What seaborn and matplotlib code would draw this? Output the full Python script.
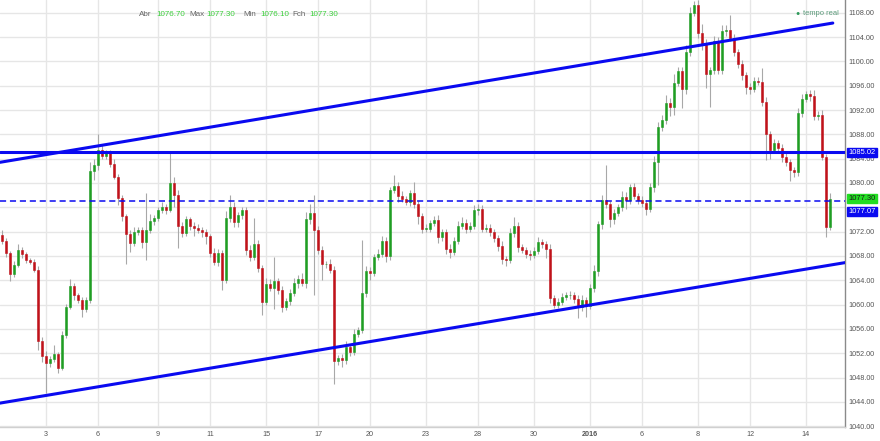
import numpy as np
import pandas as pd
import matplotlib
matplotlib.use("Agg")
import matplotlib.pyplot as plt
import matplotlib.transforms as mtransforms
import seaborn as sns

# Fechamentos dos candles
first_open = 1071.4
closes = [
    1070.5, 1068.5, 1065.0, 1066.5, 1069.0, 1068.3, 1067.3, 1067.0, 1065.7, 1054.0,
    1051.5, 1050.4, 1051.0, 1051.8, 1049.6, 1055.0, 1059.6, 1063.0, 1061.5, 1060.7,
    1059.2, 1060.8, 1082.0, 1083.0, 1085.5, 1084.5, 1084.9, 1083.2, 1081.0, 1077.5,
    1074.5, 1071.6, 1070.1, 1072.0, 1072.3, 1070.3, 1072.3, 1073.7, 1074.2, 1075.5,
    1076.0, 1075.6, 1080.0, 1078.0, 1073.0, 1071.7, 1074.0, 1073.0, 1072.6, 1072.2,
    1071.9, 1071.2, 1068.5, 1067.0, 1068.5, 1064.0, 1074.2, 1076.0, 1073.5, 1074.7,
    1075.5, 1069.0, 1067.8, 1070.0, 1066.0, 1060.5, 1063.4, 1062.8, 1063.8, 1062.4,
    1059.6, 1060.6, 1061.9, 1063.5, 1064.2, 1063.6, 1074.0, 1075.0, 1072.2, 1069.0,
    1066.6, 1066.7, 1065.7, 1050.8, 1051.2, 1050.9, 1053.0, 1052.2, 1055.2, 1055.8,
    1061.9, 1065.5, 1065.2, 1067.9, 1068.4, 1070.5, 1068.0, 1078.8, 1079.5, 1077.8,
    1077.4, 1076.9, 1078.3, 1076.5, 1074.5, 1072.5, 1072.5, 1073.4, 1073.9, 1071.1,
    1071.9, 1069.2, 1068.7, 1070.5, 1073.0, 1073.4, 1072.5, 1073.0, 1075.6, 1075.8,
    1072.5, 1072.6, 1071.9, 1070.9, 1069.6, 1067.5, 1067.4, 1071.7, 1072.9, 1069.4,
    1069.0, 1068.3, 1068.2, 1068.8, 1070.3, 1069.9, 1069.2, 1061.1, 1060.0, 1060.5,
    1061.3, 1061.5, 1061.5, 1061.0, 1059.6, 1060.7, 1059.8, 1062.7, 1065.5, 1073.2,
    1077.2, 1076.5, 1074.0, 1075.1, 1076.0, 1077.7, 1077.2, 1079.3, 1077.8, 1077.2,
    1076.7, 1075.8, 1079.3, 1083.5, 1089.2, 1090.3, 1093.2, 1092.5, 1096.5, 1098.4,
    1095.5, 1101.5, 1108.0, 1109.3, 1104.6, 1102.9, 1098.0, 1098.5, 1103.3, 1098.5,
    1105.0, 1105.2, 1103.8, 1101.5, 1099.5, 1097.8, 1095.8, 1095.5, 1096.7, 1096.6,
    1093.3, 1088.0, 1085.5, 1086.5, 1085.8, 1084.2, 1083.4, 1082.1, 1081.8, 1091.5,
    1093.8, 1094.6, 1094.3, 1091.0, 1091.2, 1084.2, 1072.7, 1077.3,
]

# Pavios: quanto a máxima/mínima passa do corpo
wick_hi = [
    0.8, 0.4, 0.3, 0.6, 0.9, 0.5, 0.4, 0.3, 0.5, 0.6,
    0.6, 0.8, 0.5, 1.6, 0.4, 0.7, 0.5, 1.2, 0.6, 0.4,
    0.5, 0.4, 1.5, 1.0, 2.5, 0.8, 0.6, 0.5, 0.7, 0.4,
    0.5, 0.4, 0.6, 0.8, 0.5, 0.4, 6.0, 1.2, 0.6, 0.5,
    0.8, 0.6, 4.9, 1.0, 0.8, 0.5, 0.6, 0.4, 0.5, 0.6,
    0.5, 0.6, 0.4, 0.8, 0.6, 0.5, 1.2, 2.0, 0.8, 0.6,
    0.5, 0.6, 0.8, 4.2, 0.6, 0.5, 0.9, 0.8, 4.0, 0.6,
    0.6, 0.5, 0.7, 0.8, 0.6, 1.0, 1.2, 1.5, 3.0, 0.8,
    0.6, 0.5, 0.8, 0.6, 0.5, 0.7, 1.0, 0.6, 0.8, 0.5,
    8.7, 0.8, 0.6, 0.5, 0.7, 0.8, 0.6, 0.5, 1.8, 0.6,
    0.8, 0.5, 0.6, 1.8, 0.5, 0.6, 0.7, 0.5, 0.6, 0.8,
    0.6, 0.5, 0.7, 0.6, 0.8, 1.0, 0.6, 0.5, 0.8, 0.7,
    0.5, 0.7, 0.6, 0.5, 0.6, 0.8, 0.5, 0.9, 1.5, 0.6,
    0.6, 0.5, 0.7, 0.6, 0.8, 0.5, 0.6, 0.7, 0.5, 0.6,
    0.6, 0.5, 0.7, 0.6, 0.5, 0.8, 0.6, 0.7, 1.0, 0.6,
    0.8, 5.7, 0.6, 0.7, 0.5, 1.0, 0.8, 0.6, 0.7, 0.5,
    0.6, 0.5, 0.7, 1.0, 0.8, 0.9, 1.2, 0.8, 1.5, 0.6,
    0.6, 1.2, 1.0, 0.6, 0.8, 1.5, 0.8, 0.6, 0.8, 0.7,
    1.0, 0.8, 2.5, 0.7, 0.6, 0.8, 0.5, 0.6, 0.8, 0.7,
    2.3, 0.8, 0.6, 0.7, 0.5, 0.6, 0.8, 0.5, 0.6, 0.9,
    0.8, 0.6, 0.7, 1.0, 0.6, 0.8, 0.5, 1.0,
]
wick_lo = [
    0.5, 0.7, 1.2, 0.4, 0.3, 0.6, 0.5, 0.4, 0.3, 1.5,
    1.0, 5.0, 0.6, 0.5, 0.9, 0.4, 0.5, 0.3, 0.7, 0.5,
    1.2, 0.4, 0.6, 1.5, 0.8, 0.5, 0.6, 0.5, 0.4, 1.2,
    0.7, 5.0, 1.4, 0.5, 0.5, 1.0, 3.0, 0.5, 0.6, 0.5,
    0.5, 0.7, 0.4, 2.0, 3.7, 0.6, 0.5, 0.8, 1.4, 0.5,
    0.8, 1.2, 0.6, 0.5, 0.7, 1.6, 0.5, 0.6, 0.7, 0.8,
    0.6, 0.8, 0.7, 0.5, 0.6, 2.2, 0.6, 0.5, 3.5, 0.7,
    0.8, 0.5, 0.6, 0.5, 0.7, 0.6, 0.8, 0.7, 10.7, 0.6,
    2.5, 0.6, 0.5, 3.8, 0.8, 1.2, 0.6, 0.7, 0.5, 0.6,
    0.5, 0.6, 1.2, 0.5, 0.6, 0.5, 1.0, 0.6, 0.5, 0.9,
    0.6, 0.5, 0.7, 0.6, 1.2, 0.8, 0.5, 0.6, 0.5, 1.0,
    0.7, 0.8, 1.0, 0.6, 0.5, 0.6, 0.7, 0.5, 0.6, 0.8,
    0.6, 0.5, 0.7, 0.6, 0.8, 0.9, 1.0, 0.5, 0.6, 0.8,
    0.5, 0.7, 0.8, 0.6, 0.5, 0.6, 1.5, 0.8, 0.6, 0.5,
    0.5, 0.6, 0.5, 0.7, 1.8, 0.6, 1.8, 0.5, 0.6, 0.8,
    0.7, 0.6, 1.2, 0.8, 0.5, 0.6, 1.5, 0.6, 0.5, 0.7,
    0.6, 1.0, 0.5, 0.8, 3.9, 0.7, 0.6, 1.5, 1.4, 0.5,
    3.2, 0.8, 0.6, 0.5, 0.7, 1.0, 2.3, 5.5, 0.6, 0.5,
    0.6, 0.8, 0.5, 0.7, 0.6, 0.9, 1.2, 0.8, 0.6, 0.5,
    0.6, 4.3, 1.5, 0.6, 0.8, 0.7, 0.6, 1.8, 0.8, 0.6,
    0.6, 0.5, 0.8, 0.6, 0.7, 0.5, 1.6, 0.5,
]

# Início de cada dia marcado no eixo x (índice do candle) e rótulos
day_start = [11, 24, 39, 52, 66, 79, 92, 106, 119, 133, 147, 160, 174, 187, 201]
day_labels = ["3", "6", "9", "11", "15", "17", "20", "23", "28", "30",
              "2016", "6", "8", "12", "14"]

# Linhas de tendência (índice, preço) e níveis horizontais
upper_trend = ([-0.5, 207.7], [1083.4, 1106.3])
lower_trend = ([-0.5, 210.75], [1043.8, 1066.9])
resistance = 1085.02
ref_level = 1077.07
last_price = 1077.30
quote = [("Abr", "1076.70"), ("Max", "1077.30"), ("Min", "1076.10"), ("Fch", "1077.30")]

df = pd.DataFrame({"close": closes, "hi_x": wick_hi, "lo_x": wick_lo})
df["open"] = [first_open] + closes[:-1]
df["top"] = df[["open", "close"]].max(axis=1)
df["bot"] = df[["open", "close"]].min(axis=1)
df["high"] = df["top"] + df["hi_x"]
df["low"] = df["bot"] - df["lo_x"]
df["idx"] = np.arange(len(df))
df["up"] = df["close"] >= df["open"]

sns.set_theme(style="whitegrid")
plt.rcParams["font.family"] = ["Liberation Sans", "DejaVu Sans"]

fig = plt.figure(figsize=(8.8, 4.41), dpi=100)
ax = fig.add_axes([0, 14 / 441, 845 / 880, 427 / 441])

up_col, dn_col = "#1f9e23", "#c0121a"
ax.vlines(df["idx"], df["low"], df["high"], color="#a8a8a8", lw=0.8, zorder=2)
colors = np.where(df["up"], up_col, dn_col)
ax.bar(df["idx"], (df["top"] - df["bot"]).clip(lower=0.15), bottom=df["bot"],
       width=0.62, color=colors, edgecolor=colors, lw=0.4, zorder=3)

blue = "#0a0af0"
sns.lineplot(x=upper_trend[0], y=upper_trend[1], ax=ax, color=blue, lw=2.2, zorder=4)
sns.lineplot(x=lower_trend[0], y=lower_trend[1], ax=ax, color=blue, lw=2.2, zorder=4)
ax.axhline(resistance, color=blue, lw=2.2, zorder=4)
ax.axhline(ref_level, color=blue, lw=1.1, ls=(0, (4, 2.5)), zorder=4)

ax.set_xlim(-0.5, 210.75)
ax.set_ylim(1039.87, 1110.09)
ax.set_xticks(day_start)
ax.set_xticklabels(day_labels)
for lab in ax.get_xticklabels():
    if lab.get_text() == "2016":
        lab.set_fontweight("bold")
yt = np.arange(1040, 1109, 4)
ax.set_yticks(yt)
# o rótulo 1076.00 fica escondido atrás da caixa do preço
ax.set_yticklabels(["" if v == 1076 else f"{v:.2f}" for v in yt])
ax.yaxis.tick_right()
ax.tick_params(axis="both", labelsize=5.2, colors="#555555", length=0, pad=2.5)
ax.tick_params(axis="x", pad=3)
ax.grid(True, color="#e6e6e6", lw=1)
for s in ["left", "top"]:
    ax.spines[s].set_visible(False)
ax.spines["right"].set_color("#8a8a8a")
ax.spines["right"].set_linewidth(1)
ax.spines["bottom"].set_color("#d0d0d0")
ax.spines["bottom"].set_linewidth(1)

# caixas de preço no eixo direito
trans = mtransforms.blended_transform_factory(ax.transAxes, ax.transData)
box = dict(boxstyle="square,pad=0.18")
ax.text(1.004, resistance, f"{resistance:.2f}", transform=trans, fontsize=5.4,
        color="white", va="center", ha="left", zorder=6, clip_on=False,
        bbox=dict(box, fc=blue, ec=blue))
ax.text(1.004, last_price + 0.15, f"{last_price:.2f}", transform=trans, fontsize=5.4,
        color="#1a1a1a", va="center", ha="left", zorder=6, clip_on=False,
        bbox=dict(box, fc="#22dd22", ec="#22dd22"))
ax.text(1.004, ref_level - 1.75, f"{ref_level:.2f}", transform=trans, fontsize=5.4,
        color="white", va="center", ha="left", zorder=6, clip_on=False,
        bbox=dict(box, fc=blue, ec=blue))

# cabeçalho com a cotação
xs = [139, 189, 243, 292]
for (lbl, val), x0 in zip(quote, xs):
    fig.text(x0 / 880, 1 - 14 / 441, lbl, fontsize=5.8, color="#666666", va="center")
    fig.text((x0 + 17) / 880, 1 - 14 / 441, val, fontsize=5.8, color="#3ccf3c", va="center")

fig.text(798 / 880, 1 - 13.5 / 441, "\u25CF", fontsize=5, color="#2e9a5a", va="center", ha="center")
fig.text(803 / 880, 1 - 13.5 / 441, "tempo real", fontsize=5.4, color="#5a9a7a", va="center")

fig.savefig("out.png", dpi=100)
